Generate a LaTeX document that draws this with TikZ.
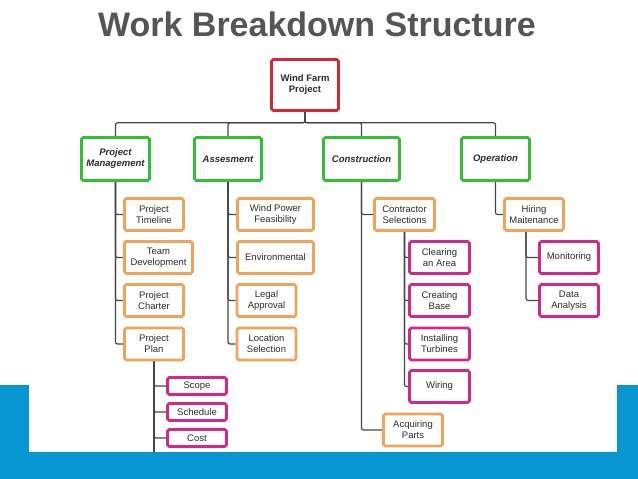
\documentclass[tikz,border=0pt]{standalone}
\usepackage{fontspec}
\setmainfont{Liberation Sans}
\usetikzlibrary{backgrounds}

\definecolor{wbsred}{RGB}{218,38,48}
\definecolor{wbsgreen}{RGB}{52,190,52}
\definecolor{wbsorange}{RGB}{240,164,88}
\definecolor{wbspink}{RGB}{212,38,140}
\definecolor{wbsblue}{RGB}{8,150,210}
\definecolor{wbsline}{RGB}{70,70,70}
\definecolor{wbstext}{RGB}{45,45,45}
\definecolor{wbstitle}{RGB}{85,85,85}

\begin{document}
\begin{tikzpicture}[
    x=1pt, y=-1pt,
    link/.style={draw=wbsline, line width=1.2pt, rounded corners=2pt},
    wbsbox/.style={
        draw,
        line width=2.6pt,
        rounded corners=1.8pt,
        fill=white,
        align=center,
        inner sep=1pt,
        text=wbstext,
        font=\fontsize{9.5}{11}\selectfont
    },
    rootbox/.style={
        wbsbox,
        draw=wbsred,
        font=\fontsize{9.5}{11}\selectfont\bfseries,
        minimum width=67pt,
        minimum height=51pt
    },
    phasebox/.style={
        wbsbox,
        draw=wbsgreen,
        font=\fontsize{9.5}{11}\selectfont\bfseries\itshape,
        minimum height=43pt
    },
    taskbox/.style={
        wbsbox,
        draw=wbsorange,
        minimum width=59pt,
        minimum height=32pt
    },
    subbox/.style={
        wbsbox,
        draw=wbspink,
        minimum width=60pt,
        minimum height=32pt
    }
]
\useasboundingbox (0,0) rectangle (638,479);

\node[font=\fontsize{34}{36}\selectfont\bfseries, text=wbstitle] (title) at (317,24)
{Work Breakdown Structure};

\node[rootbox] (wfp) at (305,85) {Wind Farm\\Project};

\node[phasebox, minimum width=68pt] (pm) at (115.5,159) {Project\\Management};
\node[phasebox, minimum width=67pt] (assess) at (228,159) {Assesment};
\node[phasebox, minimum width=76pt] (constr) at (361.5,159) {Construction};
\node[phasebox, minimum width=68pt] (oper) at (495.5,159) {Operation};

\node[taskbox] (timeline) at (154,214.5) {Project\\Timeline};
\node[taskbox, minimum width=68pt] (teamdev) at (158.5,257.5) {Team\\Development};
\node[taskbox] (charter) at (154,300.5) {Project\\Charter};
\node[taskbox] (plan) at (154,344) {Project\\Plan};

\node[subbox, minimum width=59pt, minimum height=17pt] (scope) at (197,386) {Scope};
\node[subbox, minimum width=59pt, minimum height=17pt] (schedule) at (197,412) {Schedule};
\node[subbox, minimum width=59pt, minimum height=17pt] (cost) at (197,438) {Cost};
\coordinate (planend) at (154,452);

\node[taskbox, minimum width=76pt] (windpower) at (275.5,214.5) {Wind Power\\Feasibility};
\node[taskbox, minimum width=76pt] (env) at (275.5,257.5) {Environmental};
\node[taskbox] (legal) at (266.5,300.5) {Legal\\Approval};
\node[taskbox] (location) at (266.5,344) {Location\\Selection};

\node[taskbox, minimum width=60pt] (contractor) at (404.5,214.5) {Contractor\\Selections};
\node[subbox] (clearing) at (439.5,257.5) {Clearing\\an Area};
\node[subbox] (creating) at (439.5,300.5) {Creating\\Base};
\node[subbox] (installing) at (439.5,344) {Installing\\Turbines};
\node[subbox] (wiring) at (439.5,386.5) {Wiring};
\node[taskbox] (acquiring) at (413,430) {Acquiring\\Parts};

\node[taskbox] (hiring) at (534,214.5) {Hiring\\Maitenance};
\node[subbox, minimum width=59pt] (monitoring) at (569,257.5) {Monitoring};
\node[subbox, minimum width=59pt] (data) at (569,300.5) {Data\\Analysis};

\begin{scope}[on background layer]
\fill[wbsblue] (0,385) rectangle (638,479);
\fill[white] (29,385) rectangle (617,452);

\draw[link] (wfp.south) -- ++(0,11) -| (pm.north);
\draw[link] (wfp.south) -- ++(0,11) -| (assess.north);
\draw[link] (wfp.south) -- ++(0,11) -| (constr.north);
\draw[link] (wfp.south) -- ++(0,11) -| (oper.north);

\draw[link] (pm.south) |- (timeline.west);
\draw[link] (pm.south) |- (teamdev.west);
\draw[link] (pm.south) |- (charter.west);
\draw[link] (pm.south) |- (plan.west);
\draw[link] (plan.south) |- (scope.west);
\draw[link] (plan.south) |- (schedule.west);
\draw[link] (plan.south) |- (cost.west);
\draw[link] (plan.south) -- (planend);

\draw[link] (assess.south) |- (windpower.west);
\draw[link] (assess.south) |- (env.west);
\draw[link] (assess.south) |- (legal.west);
\draw[link] (assess.south) |- (location.west);

\draw[link] (constr.south) |- (contractor.west);
\draw[link] (constr.south) |- (acquiring.west);
\draw[link] (contractor.south) |- (clearing.west);
\draw[link] (contractor.south) |- (creating.west);
\draw[link] (contractor.south) |- (installing.west);
\draw[link] (contractor.south) |- (wiring.west);

\draw[link] (oper.south) |- (hiring.west);
\draw[link] ([xshift=-8pt]hiring.south) |- (monitoring.west);
\draw[link] ([xshift=-8pt]hiring.south) |- (data.west);
\end{scope}

\end{tikzpicture}
\end{document}
